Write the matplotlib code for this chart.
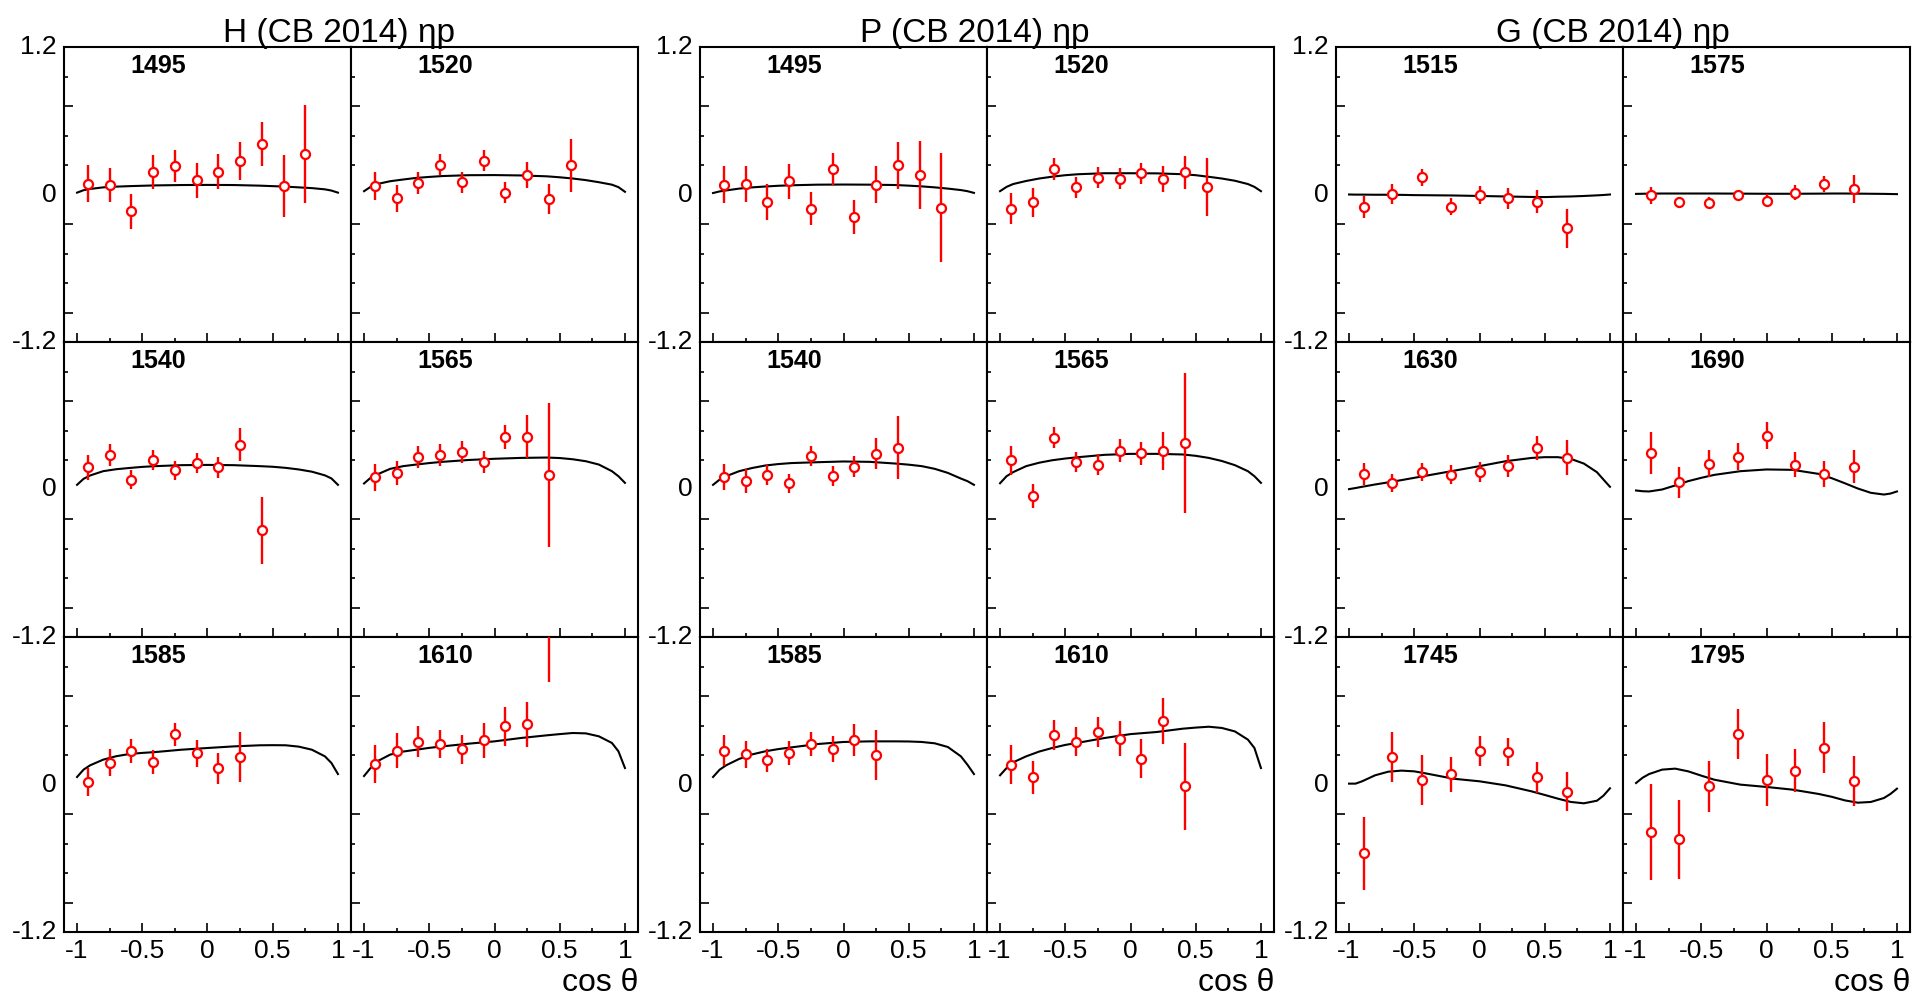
import numpy as np
import matplotlib
matplotlib.use('Agg')
import matplotlib.pyplot as plt

plt.rcParams['font.family'] = ['Liberation Sans', 'DejaVu Sans']
plt.rcParams['axes.unicode_minus'] = False

# ---------------- data ----------------
# bin centres in cos(theta)
x_hp = [-0.917, -0.75, -0.583, -0.417, -0.25, -0.083, 0.083, 0.25, 0.417, 0.583, 0.75]
x_g = [-0.889, -0.667, -0.444, -0.222, 0.0, 0.222, 0.444, 0.667]
# x positions where the fit curves were read
fit_x = [-1, -0.95, -0.9, -0.8, -0.7, -0.6, -0.5, -0.4, -0.2, 0, 0.2, 0.4, 0.5, 0.6, 0.7, 0.8, 0.9, 0.95, 1]

# H
H_1495_y = [0.087, 0.076, -0.136, 0.182, 0.233, 0.114, 0.187, 0.271, 0.412, 0.070, 0.331]
H_1495_err = [0.149, 0.141, 0.142, 0.136, 0.133, 0.141, 0.140, 0.154, 0.180, 0.250, 0.400]
H_1495_fit = [0.015, 0.035, 0.045, 0.058, 0.064, 0.068, 0.071, 0.074, 0.077, 0.078, 0.077, 0.072, 0.068, 0.064, 0.058, 0.052, 0.042, 0.032, 0.015]

H_1520_y = [0.073, -0.030, 0.095, 0.244, 0.098, 0.276, 0.016, 0.160, -0.035, 0.238]
H_1520_err = [0.114, 0.111, 0.091, 0.088, 0.087, 0.087, 0.089, 0.104, 0.123, 0.217]
H_1520_fit = [0.027, 0.062, 0.085, 0.108, 0.122, 0.135, 0.143, 0.150, 0.157, 0.158, 0.155, 0.148, 0.140, 0.130, 0.117, 0.100, 0.080, 0.060, 0.022]

H_1540_y = [0.182, 0.282, 0.079, 0.238, 0.157, 0.214, 0.179, 0.366, -0.333]
H_1540_err = [0.102, 0.091, 0.077, 0.080, 0.077, 0.080, 0.088, 0.134, 0.276]
H_1540_fit = [0.038, 0.087, 0.114, 0.149, 0.165, 0.175, 0.184, 0.190, 0.198, 0.200, 0.198, 0.190, 0.185, 0.176, 0.163, 0.145, 0.115, 0.090, 0.038]

H_1565_y = [0.098, 0.133, 0.263, 0.282, 0.306, 0.225, 0.428, 0.431, 0.119]
H_1565_err = [0.108, 0.098, 0.087, 0.088, 0.089, 0.092, 0.099, 0.173, 0.587]
H_1565_fit = [0.049, 0.095, 0.122, 0.168, 0.190, 0.203, 0.215, 0.225, 0.240, 0.250, 0.257, 0.260, 0.256, 0.246, 0.230, 0.203, 0.149, 0.108, 0.054]

H_1585_y = [0.020, 0.178, 0.273, 0.183, 0.408, 0.254, 0.134, 0.226]
H_1585_err = [0.117, 0.107, 0.095, 0.094, 0.095, 0.108, 0.126, 0.203]
H_1585_fit = [0.061, 0.121, 0.156, 0.202, 0.230, 0.248, 0.257, 0.264, 0.283, 0.297, 0.310, 0.319, 0.320, 0.319, 0.308, 0.283, 0.229, 0.175, 0.085]

H_1610_y = [0.169, 0.275, 0.349, 0.327, 0.286, 0.359, 0.473, 0.489, 1.45]
H_1610_err = [0.156, 0.141, 0.123, 0.113, 0.118, 0.144, 0.161, 0.183, 0.62]
H_1610_fit = [0.069, 0.134, 0.188, 0.243, 0.268, 0.283, 0.298, 0.310, 0.332, 0.351, 0.378, 0.400, 0.410, 0.419, 0.416, 0.392, 0.338, 0.270, 0.134]

# P
P_1495_y = [0.079, 0.084, -0.060, 0.108, -0.117, 0.209, -0.182, 0.079, 0.238, 0.157, -0.108]
P_1495_err = [0.152, 0.149, 0.144, 0.142, 0.134, 0.129, 0.138, 0.152, 0.190, 0.275, 0.444]
P_1495_fit = [0.012, 0.025, 0.033, 0.048, 0.058, 0.065, 0.071, 0.075, 0.080, 0.081, 0.080, 0.077, 0.072, 0.066, 0.058, 0.048, 0.036, 0.027, 0.013]

P_1520_y = [-0.114, -0.065, 0.209, 0.060, 0.138, 0.130, 0.171, 0.125, 0.179, 0.060]
P_1520_err = [0.123, 0.115, 0.092, 0.085, 0.083, 0.087, 0.088, 0.106, 0.133, 0.233]
P_1520_fit = [0.027, 0.062, 0.085, 0.110, 0.130, 0.145, 0.157, 0.165, 0.173, 0.173, 0.172, 0.165, 0.157, 0.144, 0.130, 0.112, 0.085, 0.062, 0.027]

P_1540_y = [0.100, 0.070, 0.119, 0.051, 0.271, 0.108, 0.187, 0.290, 0.341]
P_1540_err = [0.108, 0.099, 0.083, 0.076, 0.079, 0.081, 0.089, 0.126, 0.257]
P_1540_fit = [0.038, 0.080, 0.108, 0.149, 0.175, 0.195, 0.207, 0.215, 0.222, 0.228, 0.225, 0.211, 0.202, 0.190, 0.168, 0.135, 0.089, 0.068, 0.038]

P_1565_y = [0.238, -0.051, 0.423, 0.222, 0.203, 0.317, 0.293, 0.314, 0.379]
P_1565_err = [0.117, 0.099, 0.085, 0.083, 0.089, 0.092, 0.095, 0.156, 0.569]
P_1565_fit = [0.051, 0.108, 0.141, 0.190, 0.218, 0.238, 0.252, 0.263, 0.282, 0.290, 0.290, 0.285, 0.274, 0.257, 0.232, 0.198, 0.149, 0.108, 0.054]

P_1585_y = [0.275, 0.245, 0.197, 0.256, 0.329, 0.286, 0.362, 0.243]
P_1585_err = [0.126, 0.108, 0.094, 0.094, 0.095, 0.107, 0.127, 0.203]
P_1585_fit = [0.061, 0.120, 0.156, 0.208, 0.245, 0.270, 0.288, 0.302, 0.329, 0.346, 0.351, 0.351, 0.350, 0.346, 0.335, 0.305, 0.229, 0.161, 0.085]

P_1610_y = [0.161, 0.058, 0.400, 0.349, 0.427, 0.373, 0.210, 0.519, -0.015]
P_1610_err = [0.159, 0.133, 0.123, 0.117, 0.121, 0.140, 0.159, 0.186, 0.353]
P_1610_fit = [0.075, 0.134, 0.180, 0.229, 0.268, 0.297, 0.322, 0.340, 0.378, 0.410, 0.427, 0.454, 0.463, 0.470, 0.460, 0.432, 0.365, 0.297, 0.134]

# G
G_1515_y = [-0.103, 0.003, 0.141, -0.098, -0.003, -0.030, -0.057, -0.274]
G_1515_err = [0.088, 0.081, 0.070, 0.070, 0.072, 0.084, 0.092, 0.159]
G_1515_fit = [0.0, -0.001, -0.001, -0.002, -0.002, -0.003, -0.005, -0.006, -0.008, -0.012, -0.016, -0.020, -0.021, -0.018, -0.016, -0.012, -0.007, -0.004, 0.0]

G_1575_y = [-0.005, -0.065, -0.068, -0.005, -0.049, 0.016, 0.087, 0.043]
G_1575_err = [0.069, 0.047, 0.051, 0.041, 0.054, 0.061, 0.066, 0.115]
G_1575_fit = [0.005, 0.006, 0.007, 0.008, 0.008, 0.008, 0.008, 0.008, 0.007, 0.006, 0.006, 0.007, 0.008, 0.008, 0.007, 0.006, 0.005, 0.004, 0.003]

G_1630_y = [0.127, 0.054, 0.144, 0.122, 0.141, 0.190, 0.341, 0.260]
G_1630_err = [0.092, 0.072, 0.072, 0.075, 0.083, 0.089, 0.098, 0.145]
G_1630_fit = [0.003, 0.012, 0.022, 0.041, 0.058, 0.076, 0.095, 0.114, 0.152, 0.190, 0.230, 0.257, 0.263, 0.263, 0.249, 0.211, 0.141, 0.081, 0.022]

G_1690_y = [0.298, 0.057, 0.211, 0.268, 0.436, 0.203, 0.127, 0.187]
G_1690_err = [0.173, 0.125, 0.107, 0.112, 0.110, 0.099, 0.108, 0.138]
G_1690_fit = [-0.008, -0.014, -0.016, 0.000, 0.033, 0.068, 0.095, 0.119, 0.149, 0.163, 0.160, 0.127, 0.092, 0.051, 0.008, -0.027, -0.041, -0.033, -0.016]

G_1745_y = [-0.560, 0.224, 0.039, 0.085, 0.270, 0.264, 0.058, -0.058]
G_1745_err = [0.296, 0.206, 0.202, 0.142, 0.122, 0.115, 0.129, 0.156]
G_1745_fit = [0.007, 0.007, 0.026, 0.075, 0.104, 0.113, 0.107, 0.088, 0.047, 0.026, -0.007, -0.056, -0.085, -0.115, -0.142, -0.153, -0.132, -0.091, -0.031]

G_1795_y = [-0.389, -0.446, -0.015, 0.411, 0.039, 0.113, 0.300, 0.026]
G_1795_err = [0.390, 0.320, 0.210, 0.202, 0.213, 0.175, 0.207, 0.203]
G_1795_fit = [0.012, 0.055, 0.085, 0.121, 0.129, 0.107, 0.072, 0.039, -0.001, -0.020, -0.042, -0.077, -0.100, -0.129, -0.148, -0.142, -0.110, -0.077, -0.034]

titles = ["H (CB 2014) ηp", "P (CB 2014) ηp", "G (CB 2014) ηp"]
energies = [
    [[1495, 1520], [1540, 1565], [1585, 1610]],
    [[1495, 1520], [1540, 1565], [1585, 1610]],
    [[1515, 1575], [1630, 1690], [1745, 1795]],
]
panels = [
    [[(H_1495_y, H_1495_err, H_1495_fit), (H_1520_y, H_1520_err, H_1520_fit)],
     [(H_1540_y, H_1540_err, H_1540_fit), (H_1565_y, H_1565_err, H_1565_fit)],
     [(H_1585_y, H_1585_err, H_1585_fit), (H_1610_y, H_1610_err, H_1610_fit)]],
    [[(P_1495_y, P_1495_err, P_1495_fit), (P_1520_y, P_1520_err, P_1520_fit)],
     [(P_1540_y, P_1540_err, P_1540_fit), (P_1565_y, P_1565_err, P_1565_fit)],
     [(P_1585_y, P_1585_err, P_1585_fit), (P_1610_y, P_1610_err, P_1610_fit)]],
    [[(G_1515_y, G_1515_err, G_1515_fit), (G_1575_y, G_1575_err, G_1575_fit)],
     [(G_1630_y, G_1630_err, G_1630_fit), (G_1690_y, G_1690_err, G_1690_fit)],
     [(G_1745_y, G_1745_err, G_1745_fit), (G_1795_y, G_1795_err, G_1795_fit)]],
]
bin_x = [x_hp, x_hp, x_g]

# ---------------- layout (pixels) ----------------
W, H = 1916, 999
group_left = [64, 700, 1336]
pan_w, pan_h = 287, 295
row_top = [47, 342, 637]
title_cx = [339, 975, 1613]

fig = plt.figure(figsize=(W / 100, H / 100), dpi=100)

for g in range(3):
    for r in range(3):
        for c in range(2):
            left = group_left[g] + c * pan_w
            top = row_top[r]
            ax = fig.add_axes([left / W, 1 - (top + pan_h) / H, pan_w / W, pan_h / H])
            yv, ev, fv = panels[g][r][c]
            xb = bin_x[g][:len(yv)]
            ax.plot(fit_x, fv, color='black', lw=1.5, zorder=2)
            ax.errorbar(xb, yv, yerr=ev, fmt='o', color='red', mfc='white', mec='red',
                        ms=6.5, mew=1.6, elinewidth=1.7, capsize=0, zorder=3)
            ax.set_xlim(-1.1, 1.1)
            ax.set_ylim(-1.2, 1.2)
            for s in ax.spines.values():
                s.set_linewidth(1.5)
            # x ticks
            ax.set_xticks([-1, -0.5, 0, 0.5, 1])
            ax.set_xticks([-0.75, -0.25, 0.25, 0.75], minor=True)
            if r == 2:
                ax.set_xticklabels(['-1', '-0.5', '0', '0.5', '1'])
            else:
                ax.set_xticklabels([])
            # y ticks (labels drawn as text)
            ax.set_yticks([0.72, -0.24, -0.96])
            ax.set_yticks([0.96, 0.48, 0.24, -0.48, -0.72], minor=True)
            ax.set_yticklabels([])
            ax.tick_params(which='major', direction='in', length=6.5, width=1.2,
                           top=False, right=False, labelsize=19, pad=5)
            ax.tick_params(which='minor', direction='in', length=3.2, width=1.2,
                           top=False, right=False)
            if c == 0:
                ylabs = [1.2, 0, -1.2] if r == 0 else [0, -1.2]
                for yl in ylabs:
                    ax.text(-0.025, yl, '%g' % yl, transform=ax.get_yaxis_transform(),
                            ha='right', va='center', fontsize=19, clip_on=False)
            ax.text(-0.38, 1.045, str(energies[g][r][c]), ha='center', va='center',
                    fontsize=18, fontweight='bold')

    fig.text(title_cx[g] / W, 1 - 42 / H, titles[g], ha='center', va='baseline', fontsize=24)
    fig.text((group_left[g] + 2 * pan_w) / W, 1 - 983 / H, 'cos θ', ha='right', va='center',
             fontsize=23)

fig.savefig('out.png', dpi=100)
print("plot success!")
